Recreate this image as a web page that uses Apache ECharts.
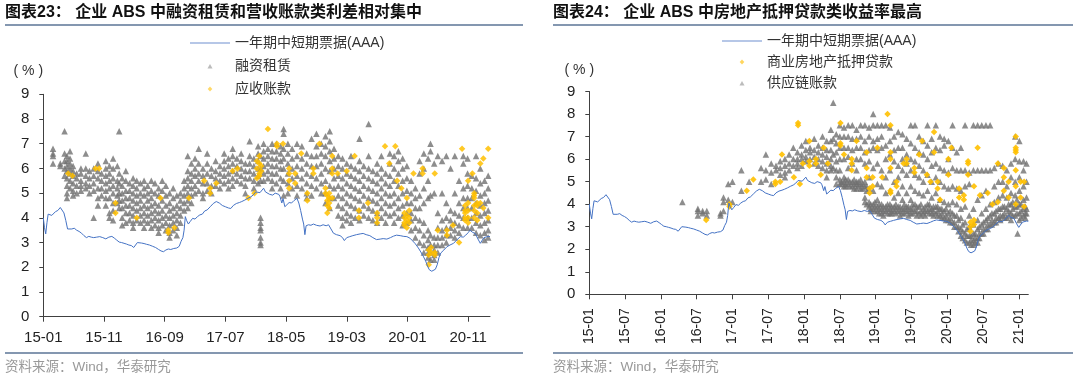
<!DOCTYPE html>
<html><head><meta charset="utf-8">
<script src="https://cdn.jsdelivr.net/npm/echarts@6/dist/echarts.min.js"></script>
<style>html,body{margin:0;padding:0;background:#fff}#c{width:1080px;height:381px}</style>
</head><body><div id="c"></div>
<script>
// x values are months since 2015-01 (0 = 15-01)
const leftTitle = '图表23： 企业 ABS 中融资租赁和营收账款类利差相对集中';
const rightTitle = '图表24： 企业 ABS 中房地产抵押贷款类收益率最高';
const sourceText = '资料来源：Wind，华泰研究';
const unitText = '( % )';
const lineName = '一年期中短期票据(AAA)';
const leftNames = ['融资租赁', '应收账款'];
const rightNames = ['商业房地产抵押贷款', '供应链账款'];
const yTicks = [0, 9, 1];

// one-year MTN (AAA) yield, [month, %]
const billData = [
[0,4.0],[0.2,3.6],[0.4,3.35],[0.6,3.8],[0.8,4.15],[1.1,4.2],[1.4,4.1],[1.7,4.15],[2.0,4.25],[2.4,4.3],[2.8,4.42],[3.1,4.4],[3.4,4.2],[3.7,3.9],[4.0,3.55],[4.3,3.5],[4.7,3.55],[5.1,3.58],[5.5,3.5],[5.9,3.45],[6.3,3.38],[6.7,3.28],[7.1,3.2],[7.5,3.25],[7.9,3.22],[8.3,3.2],[8.8,3.22],[9.3,3.24],[9.8,3.2],[10.3,3.15],[10.8,3.22],[11.3,3.25],[11.7,3.18],[12.1,3.1],[12.5,3.02],[12.9,3.0],[13.3,2.97],[13.7,2.94],[14.1,2.9],[14.5,2.88],[14.9,2.8],[15.2,2.76],[15.5,3.0],[15.8,3.04],[16.2,2.98],[16.6,2.96],[17.0,2.93],[17.5,2.9],[18.0,2.85],[18.5,2.8],[19.0,2.72],[19.4,2.66],[19.8,2.63],[20.2,2.7],[20.6,2.74],[21.0,2.72],[21.5,2.76],[22.0,2.78],[22.4,2.85],[22.7,3.05],[23.0,3.2],[23.2,3.5],[23.4,4.05],[23.6,3.9],[23.9,3.75],[24.2,3.85],[24.6,3.98],[25.0,3.95],[25.4,4.05],[25.8,4.12],[26.2,4.15],[26.6,4.28],[27.0,4.32],[27.5,4.45],[28.0,4.58],[28.5,4.66],[29.0,4.6],[29.5,4.5],[30.0,4.45],[30.5,4.4],[30.9,4.38],[31.3,4.5],[31.8,4.58],[32.3,4.62],[32.7,4.66],[33.2,4.72],[33.7,4.79],[34.2,4.85],[34.6,4.93],[35.0,5.05],[35.3,5.13],[35.7,5.02],[36.0,5.1],[36.3,5.2],[36.6,5.05],[36.9,5.0],[37.3,4.95],[37.8,4.92],[38.2,5.0],[38.5,5.06],[38.8,4.95],[39.0,4.86],[39.3,4.6],[39.5,4.78],[39.8,4.45],[40.1,4.5],[40.5,4.62],[40.9,4.6],[41.3,4.7],[41.8,4.79],[42.1,4.6],[42.4,4.3],[42.7,3.95],[42.9,3.75],[43.1,3.32],[43.3,3.68],[43.7,3.72],[44.1,3.7],[44.5,3.75],[45.0,3.7],[45.6,3.67],[46.1,3.72],[46.6,3.68],[47.0,3.72],[47.4,3.55],[47.8,3.38],[48.3,3.32],[48.9,3.28],[49.3,3.2],[49.6,3.08],[50.0,3.2],[50.5,3.24],[51.0,3.28],[51.6,3.32],[52.2,3.35],[52.7,3.37],[53.2,3.32],[53.8,3.28],[54.3,3.2],[54.9,3.12],[55.5,3.14],[56.0,3.16],[56.6,3.14],[57.2,3.2],[57.7,3.26],[58.2,3.3],[58.8,3.28],[59.4,3.25],[59.9,3.24],[60.4,3.18],[60.8,3.08],[61.3,2.95],[61.8,2.78],[62.2,2.62],[62.6,2.45],[63.0,2.25],[63.3,2.05],[63.6,1.9],[64.0,1.84],[64.3,1.83],[64.6,1.92],[64.9,2.1],[65.2,2.4],[65.5,2.58],[66.0,2.7],[66.5,2.83],[67.0,2.9],[67.6,2.97],[68.1,3.1],[68.7,3.24],[69.2,3.22],[69.6,3.3],[70.0,3.4],[70.3,3.5],[70.7,3.42],[71.2,3.36],[71.6,3.15],[72.0,2.97],[72.3,3.05],[72.6,3.2],[72.9,3.27],[73.3,3.25],[73.6,3.24]
];

// 融资租赁: [month, [yields]]
const leaseCols = [
[1.6,[6.8,6.5,6.2,6.6]],[2.8,[6.1,6.2]],[3.5,[7.5,6.6,6.3,6.0,5.7]],[3.9,[6.5,6.3,6.1,5.9,5.6,5.3,5.0,4.8]],
[4.4,[6.7,6.4,6.2,6.0,5.8,5.5,5.2]],[4.9,[6.1,5.9,5.7,5.4,5.1,4.9]],[5.5,[5.8,5.6,5.3,5.0]],[6.2,[6.0,5.8,5.5,5.3,5.1]],
[7.0,[6.6,6.0,5.7,5.4,5.2]],[7.6,[5.9,5.6,5.3,5.0]],[8.3,[6.0,5.7,5.4,5.1,4.0]],[9.0,[6.2,5.9,5.6,5.2,4.8,4.5]],
[9.6,[5.8,5.5,5.2,4.9]],[10.3,[6.3,6.0,5.7,5.4,5.1,4.8,4.5]],[10.9,[6.1,5.8,5.5,5.2,4.8,4.2,4.0]],[11.5,[6.4,6.0,5.6,5.3,5.0,4.6,4.3,3.9]],
[12.2,[6.1,5.5,5.2,4.9,4.6]],[12.5,[7.5,5.8,5.4,5.0,4.7,4.4]],[13.0,[5.6,5.3,5.0,4.7,4.4,4.0,3.7]],[13.6,[5.9,5.5,5.1,4.8,4.5,4.2,3.8]],
[14.2,[5.4,5.1,4.8,4.5,4.2,3.9]],[14.8,[5.6,5.3,5.0,4.7,4.4,4.1,3.8,3.6]],[15.4,[5.5,5.2,4.9,4.6,4.3,3.9]],[16.0,[5.4,5.0,4.7,4.4,4.1,3.8]],
[16.6,[5.5,5.2,4.9,4.5,4.2,3.9,3.6]],[17.2,[5.3,5.0,4.7,4.4,4.1,3.8]],[17.8,[5.5,5.1,4.8,4.5,4.2,3.9,3.6]],[18.4,[5.4,5.0,4.6,4.3,4.0,3.7]],
[19.0,[5.2,4.9,4.5,4.2,3.9,3.6,3.4]],[19.6,[5.5,5.1,4.7,4.3,4.0,3.7]],[20.2,[5.3,4.9,4.5,4.1,3.8,3.5]],[20.8,[5.0,4.6,4.3,4.0,3.7,3.4,3.2]],
[21.4,[5.2,4.8,4.4,4.1,3.8,3.5]],[22.0,[4.9,4.5,4.2,3.9,3.6,3.3]],[22.6,[5.0,4.7,4.4,4.1,3.8]],[23.2,[5.5,5.2,4.9,4.6,4.3]],
[23.8,[6.5,5.9,5.6,5.3,5.0,4.7,4.4]],[24.4,[6.2,5.8,5.5,5.2,4.9,4.6]],[25.0,[6.4,6.0,5.7,5.3,5.0]],[25.6,[6.8,6.2,5.8,5.5,5.1]],
[26.3,[6.0,5.7,5.4,5.0,4.8]],[27.0,[6.6,6.2,5.8,5.4,5.1]],[27.7,[6.0,5.7,5.3,5.0]],[28.4,[6.3,5.9,5.6,5.3]],
[29.1,[6.1,5.8,5.5,5.2]],[29.8,[6.6,6.3,6.0,5.7,5.4]],[30.5,[6.4,6.1,5.8,5.5,5.2]],[31.2,[6.8,6.5,6.2,5.9,5.6,5.3]],
[31.9,[6.4,6.1,5.8,5.5]],[32.6,[6.6,6.3,6.0,5.7,5.4]],[33.3,[6.2,5.9,5.6,5.3,5.0]],[34.0,[7.1,6.5,6.2,5.9,5.6]],
[34.7,[6.4,6.1,5.8,5.5,5.2]],[35.4,[6.9,6.6,6.3,6.0,5.7,5.4]],[35.8,[6.5,6.0,5.5,4.0,3.8,3.6,3.5,3.2,3.0,2.9]],[36.3,[7.0,6.7,6.4,6.1,5.8,5.5]],
[37.0,[6.8,6.5,6.2,5.9,5.6]],[37.7,[7.0,6.7,6.4,6.1,5.8,5.5,5.2]],[38.4,[7.0,6.7,6.4,6.1,5.8,5.4]],[39.1,[6.9,6.6,6.3,6.0,5.6,5.2]],
[39.6,[7.6,7.4,6.8,6.4,6.0,5.5,4.9]],[40.3,[7.0,6.6,6.2,5.8,5.4,5.0]],[41.0,[6.8,6.4,6.0,5.6,5.2]],[41.8,[7.0,6.5,6.1,5.7,5.3,4.9]],
[42.6,[6.9,6.4,6.0,5.6,5.2]],[43.4,[6.6,6.2,5.8,5.4,5.0,4.8]],[44.2,[7.2,6.5,6.1,5.7,5.3,4.9]],[45.0,[7.4,6.9,6.5,6.1,5.6,5.2]],
[45.8,[7.0,6.6,6.2,5.8,5.4,5.0]],[46.5,[7.3,6.9,6.5,6.0,5.5,5.0,4.6]],[47.2,[7.5,7.1,6.7,6.3,5.9,5.3,4.8,4.4]],[47.9,[6.8,6.4,6.0,5.6,5.2,4.8]],
[48.6,[6.5,6.1,5.7,5.3,4.9,4.5,4.1]],[49.3,[6.4,6.0,5.6,5.2,4.8,4.4,4.0,3.7]],[50.0,[6.2,5.8,5.4,5.0,4.6,4.2,3.9]],[50.7,[6.5,6.1,5.7,5.3,4.9,4.5,4.1,3.8]],
[51.4,[6.0,5.6,5.2,4.8,4.4,4.0]],[52.1,[7.2,6.3,5.9,5.5,5.1,4.7,4.3,3.9]],[52.8,[6.1,5.7,5.3,4.9,4.5,4.1]],[53.6,[7.8,6.5,6.0,5.6,5.2,4.8,4.4,4.0]],
[54.3,[5.9,5.5,5.1,4.7,4.3,3.9]],[55.0,[6.2,5.8,5.4,5.0,4.6,4.2,3.8]],[55.7,[6.5,6.0,5.6,5.2,4.8,4.4,4.0]],[56.4,[5.8,5.4,5.0,4.6,4.2,3.8]],
[57.1,[6.6,6.2,5.7,5.3,4.9,4.5,4.1]],[57.8,[6.5,6.0,5.5,5.0,4.6,4.2,3.8]],[58.5,[6.7,6.3,5.8,5.3,4.8,4.4,4.0]],[59.2,[6.4,6.0,5.5,5.0,4.5,4.1,3.7]],
[59.9,[6.1,5.6,5.1,4.6,4.2,3.8]],[60.6,[5.5,5.0,4.6,4.2,3.9,3.5]],[61.3,[5.2,4.8,4.4,4.0,3.6,3.2]],[62.0,[6.3,5.8,4.9,4.4,3.9,3.5,3.0]],
[62.7,[6.6,6.0,5.2,4.6,3.8,3.3,2.9,2.6]],[63.4,[6.4,5.5,4.8,3.5,3.1,2.8,2.6,2.4]],[63.8,[7.0,6.7,4.9,3.3,2.9,2.6,2.3]],[64.4,[6.2,5.0,3.2,2.9,2.7,2.5,2.3]],
[65.0,[6.5,4.2,3.6,3.2,2.9,2.6]],[65.7,[6.3,5.0,3.9,3.5,3.2,2.9]],[66.4,[6.5,4.6,4.0,3.6,3.3,3.0]],[67.1,[6.0,4.3,3.9,3.6,3.3]],
[67.8,[6.5,5.0,4.2,3.8,3.5,3.2]],[68.5,[5.5,4.6,4.1,3.7,3.4]],[69.2,[6.5,6.2,5.2,4.8,4.4,4.0,3.6]],[69.9,[6.4,5.8,5.3,4.8,4.4,4.0,3.6]],
[70.6,[5.7,5.2,4.8,4.4,4.0,3.6]],[71.3,[6.5,5.6,5.1,4.6,4.2,3.8,3.4]],[72.0,[6.0,5.4,4.9,4.5,4.1,3.7,3.3]],[72.7,[5.5,5.0,4.6,4.2,3.8,3.4,3.1]],
[73.3,[5.7,5.2,4.7,4.3,3.9,3.5,3.2]]
];

// 应收账款
const receivCols = [
[4.1,[5.8]],[4.8,[5.7]],[8.6,[6.0]],[9.2,[6.0]],[11.9,[4.6,4.2]],[15.4,[4.0]],[19.3,[4.8]],[20.6,[3.5,3.4]],[21.6,[3.6]],
[24.0,[4.8]],[26.5,[5.5]],[27.5,[5.0,5.2]],[28.5,[5.4]],[31.2,[5.9]],[32.0,[6.0]],[33.8,[4.8]],[34.8,[5.0]],
[35.2,[5.6,6.0,6.3]],[35.6,[5.8,6.2,6.5,5.7]],[35.9,[5.9,6.1]],[37.0,[7.6]],[38.5,[7.0,6.9]],[39.5,[7.0]],
[40.5,[5.2,5.5,5.8,6.0]],[41.5,[5.8,5.4]],[42.5,[6.6]],[43.5,[5.0,4.7]],[44.5,[6.0,5.8]],[45.5,[7.0]],[46.5,[5.0,5.2]],
[46.8,[4.2,4.5,4.7,4.9]],[47.1,[4.4,4.6,4.8,5.0]],[47.6,[6.5,6.0,5.8,4.8]],[48.5,[5.8]],[50.0,[5.9]],[51.3,[6.5]],[52.0,[4.3,4.0]],
[53.5,[4.6]],[55.0,[4.0,4.2,3.8]],[56.3,[6.9]],[57.0,[6.2]],[58.0,[6.9]],[58.3,[5.5]],[59.0,[5.2]],
[59.5,[3.8,4.0,4.2,3.7]],[59.9,[3.9,4.1,3.6,4.8]],[60.3,[3.8,4.0,4.3]],[61.0,[5.8]],[62.5,[6.0,5.8]],
[63.5,[2.1,2.5,2.7]],[63.9,[2.6,2.8]],[64.5,[2.5,2.6,5.8]],[65.0,[3.5]],[66.5,[3.5,3.3]],[67.5,[3.7]],[68.5,[3.0]],[69.0,[6.8]],
[69.5,[4.3,4.0,4.5,3.9,4.2]],[70.0,[5.5,3.8,4.0,4.6,4.3]],[70.7,[5.8]],[71.0,[4.5,4.8,4.3,4.0,4.9,5.0]],[71.5,[4.5,4.2,3.9,4.6]],
[72.0,[6.2,4.6]],[72.5,[6.4,4.4]],[73.3,[6.8,4.0]]
];

// 商业房地产抵押贷款
const cmbsCols = [
[19.6,[3.3]],[23.5,[3.9,4.0]],[26.4,[4.6]],[27.5,[5.1]],[31.2,[5.0,4.9]],[32.0,[5.0]],[32.3,[6.2]],[34.3,[5.2]],
[35.0,[7.6,7.5]],[35.3,[4.9]],[35.8,[5.8]],[36.9,[6.8,5.9,5.7]],[38.0,[6.0,5.8]],[38.8,[5.3]],[39.3,[6.5]],[40.0,[5.8]],
[42.1,[7.6,6.7,6.6]],[42.7,[6.2]],[44.0,[5.8,5.5,6.0]],[44.8,[6.8]],[46.5,[6.3,5.6,5.2]],[47.0,[4.7,4.5]],[47.5,[4.8,5.2]],
[48.3,[6.5]],[49.1,[5.2]],[50.0,[8.0]],[50.5,[7.5,6.3,6.0,5.6,4.5,4.6]],[51.5,[4.8,5.0]],[52.7,[5.8]],[53.2,[6.0,5.8]],
[54.5,[5.6,5.4]],[55.3,[6.2]],[55.8,[6.8]],[56.6,[5.3]],[57.2,[5.0]],[57.8,[7.2,6.3]],[58.4,[5.0,4.7]],[58.8,[4.2]],
[60.2,[6.0,5.3]],[60.7,[6.5]],[62.0,[4.3,4.7]],[62.8,[4.4,4.2]],[63.5,[5.8,5.9,5.3]],[63.9,[3.2,3.0,2.8]],[64.5,[3.1,3.3,4.8]],
[65.1,[6.5]],[65.5,[4.4]],[66.8,[4.5]],[67.6,[4.0]],[68.5,[5.8,4.1]],[69.5,[5.6,5.2,4.6]],[70.3,[5.0,4.3]],
[71.5,[7.0,6.5,6.4,6.3,5.5,4.0,4.8]],[72.3,[5.0,4.3]],[72.9,[5.0,3.9]]
];

// 供应链账款
const supplyCols = [
[15.6,[4.1]],[18.2,[3.8,3.7,3.5]],[19.0,[3.7,3.6]],[19.7,[3.7,3.5]],[22.0,[3.6,3.5]],[22.5,[4.3,4.1,3.7]],[23.3,[4.9,4.2]],[24.0,[5.0,4.1]],
[25.5,[5.5,4.6]],[26.8,[5.0]],[28.8,[5.6,5.0]],[29.6,[6.2,5.5,5.1]],[30.5,[5.8,5.4,4.9]],[31.3,[5.7,5.5]],[32.0,[5.9,5.6,5.3]],
[32.8,[6.0,5.7,5.4,5.2]],[33.5,[6.2,5.8,5.5]],[34.2,[6.5,6.0,5.7]],[34.9,[6.3,6.0,5.8,5.6]],[35.6,[6.6,6.2,6.0,5.7]],
[36.3,[6.8,6.4,6.1,5.9]],[37.0,[6.5,6.3,6.0]],[37.7,[6.9,6.4,6.1,5.8]],[38.4,[6.6,6.3,6.0,5.7]],[39.1,[7.0,6.5,6.2,5.9,5.6]],
[39.8,[6.8,6.4,6.1,5.8,5.5,5.2]],[40.5,[7.3,6.8,6.4,6.0,5.7,5.5]],[40.9,[8.5,6.9,6.2,5.6]],[41.4,[7.1,6.7,6.3,5.9,5.5,5.2,4.9]],
[42.0,[7.5,7.0,6.5,6.0,5.5,5.1,4.9]],[42.7,[7.4,7.0,6.5,6.0,5.2,5.0,4.8]],[43.4,[7.5,7.0,6.5,6.1,5.6,5.1,4.9]],[44.1,[7.5,6.9,6.4,5.8,5.0,4.8]],
[44.8,[7.3,6.9,6.5,6.0,5.5,5.0,4.9,4.7]],[45.5,[7.5,7.0,6.5,6.0,5.1,4.9,4.7]],[46.2,[7.5,6.8,6.3,5.8,5.0,4.8,4.3,4.1]],
[46.9,[7.4,7.0,6.4,5.9,5.2,4.7,4.1,3.9]],[47.6,[8.0,7.5,6.8,6.5,5.6,4.6,4.0,3.8]],[48.3,[7.5,6.9,6.4,5.8,4.9,4.2,3.9,3.7]],
[49.0,[7.5,7.0,6.5,5.5,4.8,4.0,3.8,3.6]],[49.7,[7.5,6.6,6.0,5.2,4.5,3.9,3.7]],[50.4,[7.4,6.8,6.2,5.5,4.6,4.0,3.8,3.6]],
[51.1,[7.0,6.4,5.9,5.0,4.3,3.9,3.7]],[51.8,[7.2,6.5,5.7,5.2,4.5,3.9,3.7]],[52.5,[7.1,6.5,6.0,5.5,4.8,4.2,3.8,3.6]],
[53.2,[6.9,6.2,5.8,5.3,4.5,3.9,3.7]],[53.9,[7.5,6.7,6.0,5.5,4.8,4.2,3.8,3.6]],[54.6,[7.5,6.5,5.9,5.3,4.6,4.0,3.7]],
[55.3,[7.0,6.3,5.7,5.2,4.5,3.9,3.6]],[56.0,[6.8,6.2,5.5,5.0,4.4,3.8,3.6]],[56.7,[7.5,6.6,6.0,5.3,4.6,4.0,3.7]],
[57.4,[6.9,6.3,5.7,5.0,4.3,3.8,3.6]],[58.1,[7.5,6.5,5.8,5.2,4.5,3.9,3.6]],[58.8,[7.0,6.4,5.6,5.0,4.2,3.8,3.5]],
[59.5,[6.9,6.6,5.5,4.8,4.1,3.7,3.4]],[60.2,[6.8,6.0,5.4,4.7,4.0,3.6,3.3]],[60.9,[7.5,6.5,5.6,4.8,4.1,3.6,3.2]],
[61.6,[6.3,5.5,4.7,4.0,3.5,3.0]],[62.3,[6.5,5.5,4.6,3.8,3.4,2.9,2.6]],[63.0,[7.5,5.5,4.8,3.9,3.2,2.7,2.4]],[63.7,[5.4,4.9,3.5,3.0,2.6,2.3]],
[64.4,[7.5,5.5,3.8,3.1,2.7,2.4,2.2]],[65.1,[7.5,5.5,4.2,3.3,2.9,2.5,2.3]],[65.8,[7.5,5.5,4.4,3.6,3.1,2.7]],[66.5,[7.5,5.5,4.6,3.8,3.3,2.9]],
[67.2,[7.5,5.5,4.0,3.5,3.1]],[67.9,[5.6,4.8,4.1,3.6,3.2]],[68.6,[5.8,5.0,4.3,3.8,3.4]],[69.3,[5.7,5.0,4.4,3.9,3.5]],
[70.0,[5.5,4.8,4.3,3.8,3.4]],[70.7,[5.8,5.2,4.5,4.0,3.6,3.3]],[71.4,[7.0,6.0,5.0,4.4,3.9,3.5]],[71.8,[2.7]],
[72.1,[6.8,5.9,5.2,4.6,4.0,3.6,3.3]],[72.8,[5.9,5.5,4.8,4.2,3.8,3.5]],[73.3,[5.8,5.0,4.3,3.8,3.6]],
// dense bands
[42.3,[5.0,4.9]],[43.0,[5.1,4.9,4.8]],[43.7,[5.0,4.8]],[44.4,[5.1,4.9,4.7]],[45.1,[5.0,4.8]],[45.8,[4.9,4.7]],[46.5,[4.8,4.6,4.0]],
[47.2,[4.0,3.8,3.7]],[47.9,[4.1,3.9,3.7]],[48.6,[4.0,3.8,3.6]],[49.3,[3.9,3.7,3.5]],[50.0,[4.0,3.8,3.6]],[50.7,[3.9,3.7,3.6]],
[51.4,[4.0,3.8,3.6]],[52.1,[3.9,3.7,3.5]],[52.8,[4.0,3.8,3.6]],[53.5,[3.9,3.7,3.5]],[54.2,[4.0,3.8,3.6]],[54.9,[3.9,3.7,3.5]],
[55.6,[4.0,3.7,3.5]],[56.3,[3.9,3.7,3.5]],[57.0,[4.0,3.8,3.6]],[57.7,[3.9,3.7,3.5]],[58.4,[3.9,3.7,3.5]],[59.1,[3.8,3.6,3.4]],
[59.8,[3.8,3.5,3.3]],[60.5,[3.7,3.4,3.2]],[61.2,[3.5,3.2,3.0]],[61.9,[3.3,3.0,2.8]],[62.6,[3.1,2.8,2.5]],[63.3,[2.9,2.6,2.3]],
[64.0,[2.6,2.4,2.2]],[64.7,[2.7,2.5,2.3]],[65.4,[3.0,2.7,2.5]],[66.1,[3.2,2.9,2.7]],[66.8,[3.4,3.1,2.9]],[67.5,[3.6,3.3,3.1]],
[68.2,[3.7,3.4,3.2]],[68.9,[3.8,3.5,3.3]],[69.6,[3.9,3.6,3.4]],[70.3,[4.0,3.7,3.5]],[71.0,[4.1,3.8,3.5]],[71.7,[4.2,3.9,3.6]],
[72.4,[4.0,3.7,3.4]],[73.1,[3.9,3.6,3.4]]
];

function flat(cols){const out=[];cols.forEach(c=>c[1].forEach(v=>out.push([c[0],v])));return out;}
function monthLabel(v){const m=Math.round(v);const y=15+Math.floor(m/12);const mo=m%12+1;return y+'-'+(mo<10?'0'+mo:mo);}

const FONT='"Liberation Sans","Noto Sans CJK SC",sans-serif';
const GRAY='#707070', YEL='#FFC000', BLUE='#4472C4', AX='#404040';
// legend icons: bounding box 40x5 (moveTo corners) with a small glyph centred
const ICON_LINE='path://M0,0M40,5M0,2L40,2L40,3L0,3Z';
const ICON_TRI='path://M0,0M40,5M17.5,5L20,0.5L22.5,5Z';
const ICON_DIA='path://M0,0M40,5M20,0L22.3,2.5L20,5L17.7,2.5Z';

function yAxis(gi,gap,padR){return {gridIndex:gi,type:'value',min:yTicks[0],max:yTicks[1],interval:yTicks[2],
  name:unitText,nameLocation:'end',nameGap:gap,
  nameTextStyle:{align:'center',verticalAlign:'middle',fontSize:14,color:'#333',fontFamily:FONT,padding:[0,padR,0,0]},
  axisLine:{show:true,lineStyle:{color:AX,width:1}},axisTick:{show:true,length:4,lineStyle:{color:AX}},
  axisLabel:{margin:14,fontSize:15,color:'#222',fontFamily:FONT},splitLine:{show:false}};}

const option={
  animation:false,
  textStyle:{fontFamily:FONT},
  title:[
    {text:leftTitle,left:5,top:5,padding:0,textStyle:{fontSize:16,fontWeight:'bold',color:'#111',fontFamily:FONT}},
    {text:rightTitle,left:553,top:5,padding:0,textStyle:{fontSize:16,fontWeight:'bold',color:'#111',fontFamily:FONT}},
    {text:sourceText,left:5,top:361,padding:0,textStyle:{fontSize:13.5,fontWeight:'normal',color:'#999',fontFamily:FONT}},
    {text:sourceText,left:553,top:361,padding:0,textStyle:{fontSize:13.5,fontWeight:'normal',color:'#999',fontFamily:FONT}}
  ],
  graphic:[
    {type:'line',shape:{x1:5,y1:25,x2:523,y2:25},style:{stroke:'#8497B0',lineWidth:2}},
    {type:'line',shape:{x1:553,y1:25,x2:1073,y2:25},style:{stroke:'#8497B0',lineWidth:2}},
    {type:'line',shape:{x1:5,y1:353,x2:523,y2:353},style:{stroke:'#8497B0',lineWidth:2}},
    {type:'line',shape:{x1:553,y1:353,x2:1073,y2:353},style:{stroke:'#8497B0',lineWidth:2}}
  ],
  legend:[
    {left:190,top:36,padding:0,orient:'vertical',itemWidth:40,itemHeight:5,itemGap:9,
     textStyle:{fontSize:14,color:'#333',fontFamily:FONT},
     data:[{name:lineName,icon:ICON_LINE,itemStyle:{color:'#6f8fcf'}},
           {name:leftNames[0],icon:ICON_TRI,itemStyle:{color:'#aaaaaa'}},
           {name:leftNames[1],icon:ICON_DIA,itemStyle:{color:'#FFD24D'}}]},
    {left:722,top:34,padding:0,orient:'vertical',itemWidth:40,itemHeight:5,itemGap:7,
     textStyle:{fontSize:14,color:'#333',fontFamily:FONT},
     data:[{name:lineName,icon:ICON_LINE,itemStyle:{color:'#6f8fcf'}},
           {name:rightNames[0],icon:ICON_DIA,itemStyle:{color:'#FFD24D'}},
           {name:rightNames[1],icon:ICON_TRI,itemStyle:{color:'#aaaaaa'}}]}
  ],
  grid:[
    {left:43.3,top:94.3,width:446.7,height:222.4},
    {left:589.3,top:91.5,width:439,height:202.8}
  ],
  xAxis:[
    {gridIndex:0,type:'value',min:0,max:73.6,interval:10,
     axisLine:{show:true,onZero:false,lineStyle:{color:AX}},axisTick:{show:true,length:5,lineStyle:{color:AX}},
     axisLabel:{margin:14,fontSize:15,color:'#222',fontFamily:FONT,showMaxLabel:false,formatter:monthLabel},splitLine:{show:false}},
    {gridIndex:1,type:'value',min:0,max:73.6,interval:6,
     axisLine:{show:true,onZero:false,lineStyle:{color:AX}},axisTick:{show:true,length:5,lineStyle:{color:AX}},
     axisLabel:{margin:14,fontSize:14,color:'#222',fontFamily:FONT,rotate:90,showMaxLabel:false,formatter:monthLabel},splitLine:{show:false}}
  ],
  yAxis:[yAxis(0,23,30),yAxis(1,21,20)],
  series:[
    {name:leftNames[0],type:'scatter',xAxisIndex:0,yAxisIndex:0,symbol:'triangle',symbolSize:6.5,
     itemStyle:{color:GRAY,opacity:0.8},data:flat(leaseCols)},
    {name:leftNames[1],type:'scatter',xAxisIndex:0,yAxisIndex:0,symbol:'diamond',symbolSize:6.5,
     itemStyle:{color:YEL,opacity:0.85},data:flat(receivCols)},
    {name:lineName,type:'line',xAxisIndex:0,yAxisIndex:0,symbol:'none',lineStyle:{color:BLUE,width:1},itemStyle:{color:BLUE},data:billData},
    {name:rightNames[1],type:'scatter',xAxisIndex:1,yAxisIndex:1,symbol:'triangle',symbolSize:6.5,
     itemStyle:{color:GRAY,opacity:0.8},data:flat(supplyCols)},
    {name:rightNames[0],type:'scatter',xAxisIndex:1,yAxisIndex:1,symbol:'diamond',symbolSize:6.5,
     itemStyle:{color:YEL,opacity:0.9},data:flat(cmbsCols)},
    {name:lineName,type:'line',xAxisIndex:1,yAxisIndex:1,symbol:'none',lineStyle:{color:BLUE,width:1},itemStyle:{color:BLUE},data:billData}
  ]
};
const chart=echarts.init(document.getElementById('c'),null,{renderer:'canvas'});
chart.setOption(option);
</script></body></html>
